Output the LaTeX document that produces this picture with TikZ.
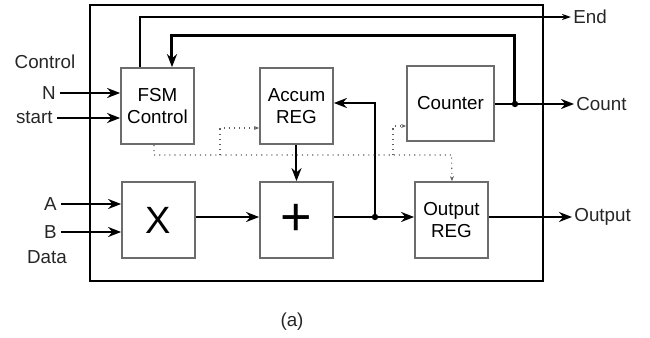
\documentclass[tikz,border=0pt]{standalone}
\usepackage{fontspec}
\setmainfont{Liberation Sans}
\usetikzlibrary{shapes,positioning,arrows.meta,calc}
\usepackage{xcolor}

\begin{document}
\begin{tikzpicture}[x=0.5pt,y=-0.5pt]

	\tikzstyle{blockrect}=[draw=gray!85!black, line width=0.9pt, rectangle, minimum width=36.5pt, minimum height=38pt, inner sep=0pt, align=center];
	\tikzstyle{lbl}=[inner sep=0pt, text=black!85];
	\tikzstyle{bus}=[line width=1pt];
	\tikzstyle{ctrl}=[draw=gray!75!black, line width=0.55pt, dotted, -{Stealth[length=2.5pt,width=2pt]}];
	\fontsize{9.4}{11}\selectfont
	\useasboundingbox (0,0) rectangle (650,338);

	% outer frame
	\draw[line width=1pt] (90,5) rectangle (543,281);

	\begin{scope}[>={Stealth[length=6.5pt,width=5pt]}]

		% blocks
		\node (fsm) at (157.5,106) [blockrect]{FSM\\Control};
		\node (accum) at (296.5,106) [blockrect]{Accum\\REG};
		\node (counter) at (450.5,103.5) [blockrect, minimum width=43.5pt, minimum height=37.5pt]{Counter};
		\node (mult) at (158.5,220) [blockrect]{\fontsize{19}{19}\selectfont X};
		\node (adder) at (296.5,220) [blockrect]{\fontsize{27}{27}\selectfont +};
		\node (outreg) at (451.5,220) [blockrect]{Output\\REG};

		% labels outside the frame
		\node (lbl_control) at (45,62) [lbl]{Control};
		\node (lbl_n) at (56,93) [lbl, anchor=east]{N};
		\node (lbl_start) at (53,118) [lbl, anchor=east]{start};
		\node (lbl_a) at (57,204) [lbl, anchor=east]{A};
		\node (lbl_b) at (57,232) [lbl, anchor=east]{B};
		\node (lbl_data) at (47,257) [lbl]{Data};
		\node (lbl_end) at (573,17) [lbl, anchor=west]{End};
		\node (lbl_count) at (576,104) [lbl, anchor=west]{Count};
		\node (lbl_output) at (574,217) [lbl, anchor=west]{Output};
		\node (lbl_caption) at (292,322) [lbl]{(a)};

		\coordinate (jcount) at (515,104);
		\coordinate (jtop) at (515,35);
		\coordinate (jsum) at (375,217);

		% inputs
		\draw[->, bus] ([xshift=2pt]lbl_n.east) -- (lbl_n.east -| fsm.west);
		\draw[->, bus] ([xshift=2pt]lbl_start.east) -- (lbl_start.east -| fsm.west);
		\draw[->, bus] ([xshift=2pt]lbl_a.east) -- (lbl_a.east -| mult.west);
		\draw[->, bus] ([xshift=2pt]lbl_b.east) -- (lbl_b.east -| mult.west);

		% datapath
		\draw[->, bus] (mult.east |- jsum) -- (adder.west |- jsum);
		\draw[->, bus] (adder.east |- jsum) -- (outreg.west |- jsum);
		\draw[->, bus] (accum.south) -- (adder.north);
		\draw[->, bus] (jsum) |- ([yshift=1.5pt]accum.east);
		\fill (jsum) circle (1.6pt);
		\draw[->, bus] (outreg.east |- jsum) -- ([xshift=-1pt]lbl_output.west);

		% counter and feedback to the FSM
		\draw[->, bus] (counter.east |- jcount) -- ([xshift=-1pt]lbl_count.west);
		\draw[->, line width=1.5pt] (jcount) -- (jtop) -| ([xshift=7.25pt]fsm.north);
		\fill (jcount) circle (1.6pt);
		\draw[-{Stealth[length=4.5pt,width=3pt]}, line width=0.7pt] ([xshift=-8.75pt]fsm.north) |- ([xshift=-1pt]lbl_end.west);

		% control lines
		\draw[ctrl] ([xshift=-1.75pt]fsm.south) |- (452,155) -- (452,155 -| outreg.north) -- ([xshift=0.25pt]outreg.north);
		\draw[ctrl] (220,155) |- ([yshift=-11pt]accum.west);
		\draw[ctrl] (393,155) |- ([yshift=-11.25pt]counter.west);

	\end{scope}
\end{tikzpicture}
\end{document}
